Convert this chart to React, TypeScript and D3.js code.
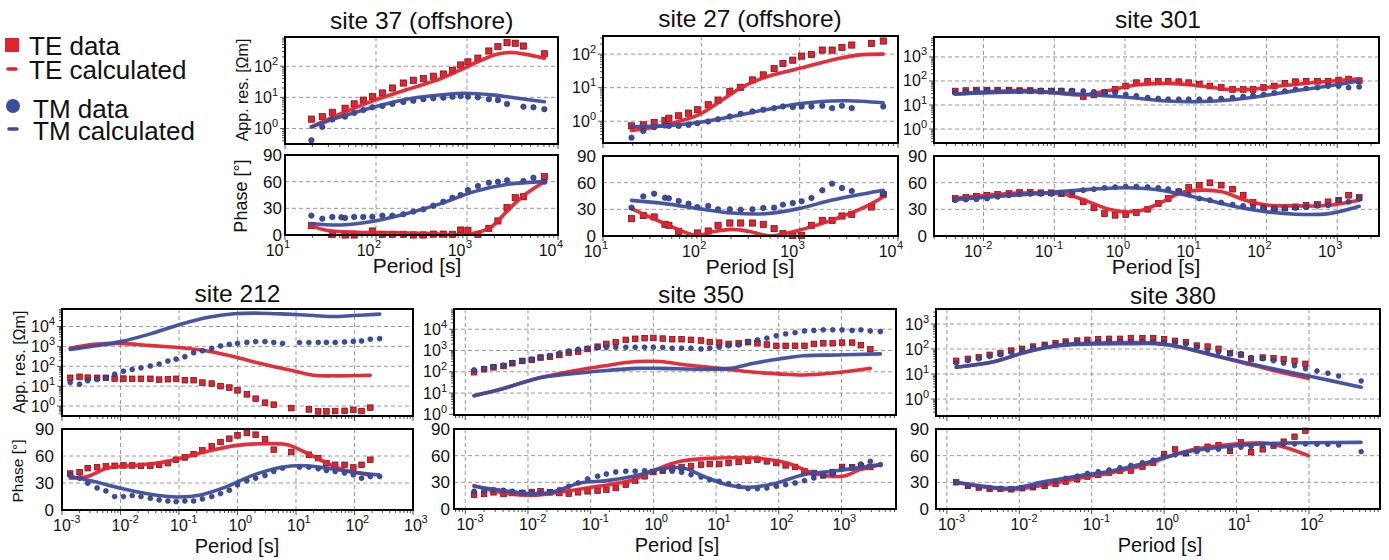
import React from 'react';
import * as d3 from 'd3';

type Pt = [number, number];
type Val = number | null;

// All periods are log10(T [s]); apparent resistivities are log10(rho [Ohm m]); phases in degrees.

// ---------------- site 37 (offshore) ----------------
const s37TePer = [1.29, 1.41, 1.52, 1.66, 1.76, 1.86, 1.96, 2.07, 2.18, 2.30, 2.41, 2.52, 2.63, 2.74, 2.84, 2.93, 3.01, 3.12, 3.24, 3.34, 3.44, 3.53, 3.62, 3.85];
const s37TeRho: Val[] = [0.30, 0.38, 0.52, 0.65, 0.79, 0.91, 1.02, 1.14, 1.30, 1.46, 1.55, 1.60, 1.68, 1.75, 1.87, 2.04, 2.14, 2.26, 2.49, 2.63, 2.76, 2.74, 2.65, 2.40];
const s37TePh: Val[] = [10.5, null, 0.8, 0, 0, null, 4.5, 0.8, 0.8, 0.8, 0, 0, 1, 1, 0.8, 5.6, 5.3, 0.8, 7.5, 15.8, 30.8, 42, 43, 65.6];
const s37TmPer = [1.29, 1.41, 1.52, 1.62, 1.66, 1.76, 1.86, 1.96, 2.07, 2.18, 2.30, 2.41, 2.52, 2.63, 2.74, 2.84, 2.93, 3.01, 3.12, 3.24, 3.34, 3.44, 3.62, 3.73, 3.85];
const s37TmRho: Val[] = [-0.38, 0.05, 0.29, null, 0.38, 0.50, 0.59, 0.68, 0.72, 0.79, 0.85, 0.89, 0.94, 0.97, 0.99, 1.02, 1.04, 1.02, 1.00, 0.94, 0.91, 0.79, 0.70, 0.68, 0.62];
const s37TmPh: Val[] = [21.8, 18.4, 20.3, 19.9, 19.2, 20.3, 20.3, 20.6, 21.8, 21.8, 23.3, 26.3, 28.9, 33, 37.5, 42, 45, 50.6, 55.1, 58.9, 60, 61.5, 60.8, 64.5, 60];
const s37TeRhoCalc: Pt[] = [[1.29, 0.05], [1.62, 0.48], [1.99, 0.91], [2.35, 1.26], [2.72, 1.61], [2.97, 1.94], [3.16, 2.20], [3.34, 2.39], [3.49, 2.44], [3.63, 2.39], [3.85, 2.26]];
const s37TmRhoCalc: Pt[] = [[1.29, 0.05], [1.62, 0.38], [1.99, 0.70], [2.35, 0.95], [2.72, 1.08], [2.97, 1.13], [3.27, 1.08], [3.56, 0.97], [3.85, 0.86]];
const s37TePhCalc: Pt[] = [[1.29, 10.5], [1.44, 5.6], [1.80, 3], [2.17, 2.6], [2.54, 1.9], [2.90, 0.3], [3.08, 1.9], [3.27, 9.4], [3.45, 28], [3.63, 45], [3.85, 60]];
const s37TmPhCalc: Pt[] = [[1.29, 13], [1.62, 11.3], [1.99, 15.8], [2.35, 24.4], [2.72, 35.6], [3.08, 48.8], [3.45, 57], [3.85, 60]];

// ---------------- site 27 (offshore) ----------------
const s27Per = [1.29, 1.41, 1.52, 1.63, 1.67, 1.77, 1.87, 1.96, 2.07, 2.17, 2.29, 2.40, 2.52, 2.63, 2.74, 2.83, 2.93, 3.02, 3.12, 3.23, 3.33, 3.43, 3.53, 3.73, 3.85];
const s27TeRho: Val[] = [-0.14, -0.11, -0.04, 0.02, 0.09, 0.16, 0.24, 0.34, 0.49, 0.63, 0.88, 1.01, 1.23, 1.38, 1.57, 1.72, 1.82, 1.94, 1.99, 2.12, 2.12, 2.20, 2.27, 2.32, 2.39];
const s27TmRho: Val[] = [-0.49, -0.29, -0.18, -0.13, -0.14, -0.14, -0.11, -0.06, -0.01, 0.06, 0.14, 0.22, 0.29, 0.34, 0.39, 0.44, 0.42, 0.44, 0.44, 0.46, 0.39, 0.46, 0.39, null, 0.44];
const s27TePh: Val[] = [19.5, 23, 21.4, 13.1, 12, 5.3, null, 3.4, 5.6, 12, 14.6, 14.6, 14.6, 13.1, 8.3, 2.6, 0.8, 0.8, 12, 17.6, 17.6, 22.5, 24.4, 32.6, 46.9];
const s27TmPh: Val[] = [31.9, 44.6, 47.6, 43.1, 42.4, 39.4, 36.4, 32.6, 33.8, 30, 30, 29.6, 30, 31.5, 31.9, 35.3, 37.1, 39, 42.8, 51.4, 58.9, 54, 50.6, null, 47.6];
const s27TeRhoCalc: Pt[] = [[1.29, -0.28], [1.63, -0.11], [1.97, 0.19], [2.21, 0.63], [2.41, 1.01], [2.65, 1.31], [2.99, 1.57], [3.32, 1.82], [3.59, 1.97], [3.85, 2.0]];
const s27TmRhoCalc: Pt[] = [[1.29, -0.16], [1.63, -0.14], [1.97, -0.04], [2.31, 0.14], [2.65, 0.34], [2.99, 0.52], [3.32, 0.60], [3.49, 0.61], [3.85, 0.55]];
const s27TePhCalc: Pt[] = [[1.29, 30.8], [1.63, 13.9], [1.95, 0.8], [2.14, 5.3], [2.31, 7.5], [2.48, 5.3], [2.71, 0.2], [2.99, 6.4], [3.32, 17.6], [3.66, 32.6], [3.85, 43.9]];
const s27TmPhCalc: Pt[] = [[1.29, 40.1], [1.63, 36.4], [1.97, 30.8], [2.31, 25.9], [2.65, 25.1], [2.99, 30.8], [3.32, 40.1], [3.66, 47.6], [3.85, 51.4]];

// ---------------- site 301 ----------------
const s301Per = [-2.40, -2.25, -2.10, -1.95, -1.80, -1.64, -1.49, -1.34, -1.19, -1.04, -0.90, -0.75, -0.59, -0.44, -0.29, -0.14, 0.01, 0.16, 0.32, 0.47, 0.61, 0.76, 0.90, 1.05, 1.20, 1.36, 1.52, 1.67, 1.81, 1.96, 2.11, 2.26, 2.41, 2.56, 2.72, 2.87, 3.02, 3.16, 3.31];
const s301TeRho: Val[] = [1.58, 1.60, 1.62, 1.62, 1.62, 1.62, 1.60, 1.60, 1.58, 1.58, 1.58, 1.55, 1.35, 1.42, 1.51, 1.65, 1.79, 1.93, 1.99, 1.99, 1.99, 1.97, 1.93, 1.87, 1.79, 1.73, 1.65, 1.65, 1.65, 1.73, 1.79, 1.90, 1.97, 1.99, 1.99, 1.99, 2.04, 2.08, 2.01];
const s301TmRho: Val[] = [1.51, 1.55, 1.60, 1.60, 1.60, 1.60, 1.60, 1.60, 1.60, 1.60, 1.60, 1.60, 1.58, 1.55, 1.55, 1.51, 1.44, 1.38, 1.31, 1.27, 1.24, 1.24, 1.24, 1.24, 1.24, 1.27, 1.31, 1.35, 1.40, 1.44, 1.51, 1.58, 1.65, 1.69, 1.73, 1.79, 1.79, 1.73, 1.76];
const s301TePh: Val[] = [42.2, 43.3, 44.8, 45.9, 46.7, 47.8, 49, 49, 48.6, 48.6, 47.8, 46.7, 38.4, 31.6, 25.2, 23.3, 24.1, 26.4, 30.1, 36.5, 42.2, 49.7, 54.6, 57.2, 59.9, 57.2, 52.7, 45.9, 37.7, 32.8, 30.9, 31.6, 32.8, 34.6, 35.4, 38.4, 40.3, 45.9, 43.3];
const s301TmPh: Val[] = [40.3, 41, 41.4, 42.2, 44.1, 45.9, 46.7, 47.4, 47.4, 47.4, 47.4, 49.7, 51.6, 52.7, 54.2, 55, 55.7, 55.7, 55, 54.2, 52.7, 50.8, 46.7, 42.2, 40.3, 37.7, 35.4, 33.9, 32.4, 31.6, 30.9, 30.9, 31.6, 32.4, 33.9, 34.6, 40.3, 38.4, 42.2];
const s301TeRhoCalc: Pt[] = [[-2.40, 1.46], [-1.36, 1.60], [-0.60, 1.42], [-0.23, 1.60], [0.15, 1.83], [0.62, 1.90], [1.0, 1.82], [1.47, 1.65], [1.75, 1.65], [2.18, 1.79], [2.65, 1.93], [3.31, 2.09]];
const s301TmRhoCalc: Pt[] = [[-2.40, 1.46], [-1.36, 1.55], [-0.60, 1.44], [0.06, 1.31], [0.53, 1.18], [1.0, 1.14], [1.47, 1.21], [1.94, 1.38], [2.41, 1.60], [2.88, 1.79], [3.31, 2.01]];
const s301TePhCalc: Pt[] = [[-2.40, 42.2], [-1.36, 48.6], [-0.79, 45.9], [-0.51, 38.4], [-0.23, 30.1], [0.01, 27.1], [0.24, 29], [0.53, 38.4], [0.76, 47.8], [1.09, 51.6], [1.37, 49.7], [1.70, 40.3], [2.03, 34.6], [2.41, 33.9], [2.88, 34.6], [3.31, 40.3]];
const s301TmPhCalc: Pt[] = [[-2.40, 41], [-1.36, 47.1], [-0.65, 51.6], [0.01, 54.2], [0.43, 52.3], [0.90, 45.2], [1.47, 34.6], [1.94, 27.9], [2.41, 24.5], [2.88, 25.2], [3.31, 33.5]];

// ---------------- site 212 ----------------
const s212TePer = [-2.86, -2.70, -2.56, -2.40, -2.25, -2.10, -1.95, -1.80, -1.65, -1.49, -1.34, -1.19, -1.05, -0.90, -0.75, -0.60, -0.44, -0.29, -0.14, 0.00, 0.16, 0.31, 0.47, 0.62, 0.92, 1.22, 1.38, 1.52, 1.67, 1.83, 1.98, 2.12, 2.27];
const s212TeRho: Val[] = [1.42, 1.47, 1.43, 1.42, 1.42, 1.38, 1.38, 1.37, 1.37, 1.37, 1.33, 1.35, 1.37, 1.30, 1.30, 1.18, 1.13, 1.00, 0.93, 0.79, 0.59, 0.37, 0.17, 0.07, -0.10, -0.17, -0.27, -0.27, -0.25, -0.24, -0.19, -0.25, -0.08];
const s212TePh: Val[] = [40.5, 42, 46.5, 47.6, 48.4, 49.1, 49.5, 49.5, 49.1, 49.1, 50.2, 52.1, 55.8, 58.4, 62.1, 66.2, 70.7, 75.5, 79.2, 82.9, 85.6, 83.7, 78.9, 67, 64.4, 61.4, 57.7, 52.1, 50.2, 50.2, 47.2, 50.2, 55.8];
const s212TmPer = [-2.86, -2.70, -2.56, -2.40, -2.25, -2.10, -1.95, -1.80, -1.65, -1.49, -1.34, -1.19, -1.05, -0.90, -0.75, -0.60, -0.44, -0.29, -0.14, 0.00, 0.16, 0.31, 0.47, 0.62, 0.77, 1.06, 1.22, 1.38, 1.52, 1.67, 1.83, 1.98, 2.12, 2.27, 2.43];
const s212TmRho: Val[] = [1.18, 1.10, 1.27, 1.33, 1.42, 1.60, 1.75, 1.84, 1.92, 2.01, 2.11, 2.26, 2.36, 2.48, 2.68, 2.78, 2.90, 3.02, 3.10, 3.15, 3.20, 3.24, 3.24, 3.20, 3.15, 3.19, 3.19, 3.20, 3.20, 3.20, 3.22, 3.25, 3.27, 3.36, 3.39];
const s212TmPh: Val[] = [39, 35.3, 29.8, 24.5, 21.2, 14.9, 14.9, 16, 14.9, 13, 11.2, 10, 9.3, 10, 10, 12.3, 14.9, 18.2, 21.9, 27.9, 32.4, 35.3, 38.3, 42.8, 46.5, 47.6, 47.6, 45.8, 43.9, 42.8, 41, 39, 35.3, 37.2, 37.2];
const s212TeRhoCalc: Pt[] = [[-2.86, 2.90], [-2.45, 3.10], [-2.0, 3.15], [-1.49, 3.04], [-0.97, 2.93], [-0.52, 2.77], [-0.06, 2.48], [0.39, 2.14], [0.85, 1.84], [1.30, 1.55], [1.65, 1.52], [2.27, 1.55]];
const s212TmRhoCalc: Pt[] = [[-2.86, 2.85], [-2.45, 3.02], [-2.0, 3.24], [-1.49, 3.63], [-0.97, 4.11], [-0.52, 4.45], [-0.06, 4.64], [0.39, 4.67], [0.85, 4.62], [1.30, 4.55], [1.65, 4.50], [1.98, 4.55], [2.43, 4.62]];
const s212TePhCalc: Pt[] = [[-2.86, 35.3], [-2.57, 37.2], [-2.23, 46.5], [-1.77, 49.5], [-1.31, 52.8], [-0.86, 59.5], [-0.40, 67], [0, 71.8], [0.51, 73.7], [0.85, 72.5], [1.19, 63.2], [1.53, 52.1], [1.87, 43.5], [2.27, 39]];
const s212TmPhCalc: Pt[] = [[-2.86, 37.2], [-2.45, 31.6], [-2.0, 24.2], [-1.49, 17.5], [-1.03, 14.5], [-0.63, 16.7], [-0.18, 26], [0.28, 39], [0.73, 47.2], [1.08, 49.5], [1.53, 46.5], [1.99, 42], [2.42, 39]];

// ---------------- site 350 ----------------
const s350Per = [-2.86, -2.70, -2.55, -2.39, -2.25, -2.09, -1.94, -1.80, -1.65, -1.50, -1.35, -1.20, -1.05, -0.89, -0.75, -0.60, -0.44, -0.29, -0.14, 0.00, 0.15, 0.30, 0.45, 0.60, 0.76, 0.90, 1.05, 1.20, 1.36, 1.51, 1.66, 1.81, 1.96, 2.11, 2.26, 2.41, 2.56, 2.71, 2.86, 3.01, 3.17, 3.31, 3.46, 3.62];
const s350TeRho: Val[] = [1.98, 2.12, 2.21, 2.27, 2.40, 2.51, 2.56, 2.67, 2.71, 2.79, 2.90, 2.95, 3.07, 3.18, 3.31, 3.39, 3.50, 3.55, 3.58, 3.59, 3.56, 3.53, 3.53, 3.50, 3.47, 3.40, 3.37, 3.31, 3.34, 3.39, 3.34, 3.28, 3.22, 3.22, 3.22, 3.22, 3.31, 3.34, 3.34, 3.37, 3.37, 3.25, 3.06, null];
const s350TmRho: Val[] = [2.09, 2.16, 2.24, 2.31, 2.43, 2.51, 2.59, 2.68, 2.76, 2.87, 2.98, 3.06, 3.11, 3.14, 3.14, 3.15, 3.15, 3.15, 3.15, 3.15, 3.14, 3.11, 3.11, 3.11, 3.07, 3.11, 3.15, 3.22, 3.26, 3.42, 3.50, 3.58, 3.69, 3.78, 3.84, 3.92, 3.94, 3.97, 3.97, 3.97, 3.94, 3.97, 3.92, 3.89];
const s350TePh: Val[] = [16.1, 16.9, 18.8, 16.9, 18, 18, 19.1, 19.9, 18.8, 18, 17.3, 18.8, 19.9, 20.6, 21.8, 23.6, 27.4, 31.9, 36.8, 41.6, 43.1, 46.1, 46.9, 48, 49.9, 50.6, 50.6, 51.8, 52.9, 54.4, 55.5, 53.6, 51.8, 49.1, 47.3, 42.4, 40.5, 37.9, 41.6, 47.3, 46.9, 48, 47.3, null];
const s350TmPh: Val[] = [19.9, 20.6, 21.8, 21, 19.9, 18.8, 18, 18, 19.1, 21.8, 25.5, 29.3, 33.8, 36.8, 39.4, 41.6, 42.4, 42.4, 43.1, 42.4, 43.1, 42.4, 41.3, 38.6, 36, 33, 31.1, 28.5, 25.5, 22.9, 22.9, 23.6, 25.5, 27.4, 29.3, 31.9, 34.9, 37.5, 39.4, 45, 46.9, 50.6, 53.6, 49.9];
const s350TeRhoCalc: Pt[] = [[-2.86, 0.88], [-2.39, 1.22], [-1.86, 1.69], [-1.33, 2.01], [-0.80, 2.27], [-0.27, 2.48], [0.11, 2.48], [0.53, 2.32], [1.06, 2.16], [1.49, 2.01], [2.0, 1.90], [2.39, 1.85], [2.82, 1.93], [3.46, 2.16]];
const s350TmRhoCalc: Pt[] = [[-2.86, 0.88], [-2.39, 1.22], [-1.86, 1.69], [-1.33, 1.90], [-0.80, 2.05], [-0.27, 2.16], [0.11, 2.16], [0.80, 2.12], [1.22, 2.16], [1.60, 2.40], [2.0, 2.60], [2.39, 2.75], [2.93, 2.79], [3.62, 2.84]];
const s350TePhCalc: Pt[] = [[-2.86, 26.3], [-2.39, 18], [-1.91, 15.4], [-1.49, 19.1], [-1.06, 23.6], [-0.32, 33], [0, 43.1], [0.43, 53.6], [1.06, 57.4], [1.60, 57.4], [2.13, 51.8], [2.55, 40.5], [3.01, 36.8], [3.30, 44.3], [3.62, 49.9]];
const s350TmPhCalc: Pt[] = [[-2.86, 25.5], [-2.39, 20.6], [-1.97, 17.3], [-1.60, 19.1], [-1.17, 29.3], [-0.74, 31.9], [-0.32, 36.8], [0.11, 45], [0.48, 46.1], [0.80, 36.8], [1.17, 27.4], [1.54, 24.4], [1.97, 29.3], [2.39, 38.6], [2.93, 43.1], [3.62, 49.9]];

// ---------------- site 380 ----------------
const s380Per = [-2.87, -2.71, -2.56, -2.41, -2.26, -2.11, -1.96, -1.81, -1.65, -1.50, -1.36, -1.20, -1.06, -0.91, -0.76, -0.61, -0.46, -0.30, -0.15, 0.00, 0.15, 0.30, 0.45, 0.60, 0.75, 0.91, 1.06, 1.20, 1.36, 1.51, 1.65, 1.80, 1.95, 2.11, 2.26, 2.41, 2.72];
const s380TeRho: Val[] = [1.53, 1.61, 1.67, 1.77, 1.83, 1.94, 2.01, 2.10, 2.17, 2.24, 2.30, 2.34, 2.37, 2.40, 2.41, 2.41, 2.44, 2.44, 2.44, 2.40, 2.33, 2.28, 2.14, 2.10, 2.01, 1.83, 1.77, 1.61, 1.66, 1.63, 1.59, 1.53, 1.41, null, null, null, null];
const s380TmRho: Val[] = [1.43, 1.53, 1.61, 1.70, 1.77, 1.86, 1.94, 2.04, 2.13, 2.17, 2.24, 2.28, 2.29, 2.30, 2.30, 2.30, 2.30, 2.30, 2.29, 2.26, 2.24, 2.20, 2.06, 1.93, 1.87, 1.81, 1.81, 1.66, 1.61, 1.53, 1.43, 1.33, 1.21, 1.12, 1.03, 0.92, 0.72];
const s380TePh: Val[] = [30, 25.9, 24, 22.5, 22.5, 22.1, 23.3, 24.4, 25.9, 28.1, 30.8, 33.4, 36.4, 38.3, 40.9, 43.1, 43.1, 47.6, 52.1, 61.9, 67.1, 62.6, 67.1, 70.1, 72, 65.3, 75, 63.8, 67.1, 71.3, 75.8, 81.4, 88.1, null, null, null, null];
const s380TmPh: Val[] = [30, 27, 25.1, 24, 23.3, 22.5, 23.3, 25.1, 28.1, 31.5, 34.5, 37.1, 40.1, 42, 43.9, 46.5, 49.1, 52.1, 55.1, 58.9, 60.8, 62.6, 64.5, 66.4, 67.1, 68.3, 69.4, 70.1, 72, 72.8, 73.1, 73.1, 73.1, 72.8, 72.8, 72, 64.5];
const s380TeRhoCalc: Pt[] = [[-2.87, 1.27], [-2.34, 1.50], [-1.88, 1.90], [-1.42, 2.17], [-0.96, 2.24], [-0.50, 2.26], [-0.13, 2.24], [0.19, 2.10], [0.65, 1.77], [1.11, 1.43], [1.57, 1.10], [1.99, 0.83]];
const s380TmRhoCalc: Pt[] = [[-2.87, 1.27], [-2.34, 1.50], [-1.88, 1.90], [-1.42, 2.14], [-0.96, 2.20], [-0.50, 2.21], [-0.13, 2.21], [0.19, 2.10], [0.65, 1.77], [1.11, 1.46], [1.57, 1.17], [2.03, 0.90], [2.72, 0.47]];
const s380TePhCalc: Pt[] = [[-2.87, 30], [-2.52, 25.1], [-2.11, 22.1], [-1.65, 27], [-1.19, 34.5], [-0.73, 40.9], [-0.27, 49.5], [0, 57], [0.33, 65.6], [0.65, 70.1], [1.11, 73.9], [1.43, 73.9], [1.71, 68.3], [1.99, 60]];
const s380TmPhCalc: Pt[] = [[-2.87, 30], [-2.52, 25.9], [-2.11, 23.3], [-1.65, 30.8], [-1.19, 37.1], [-0.73, 42.8], [-0.27, 51.4], [0, 58.1], [0.33, 64.5], [0.65, 68.3], [1.11, 72], [1.57, 73.9], [2.03, 74.6], [2.72, 75]];

// ---------------- legend / ticks ----------------
const legendLabels = ['TE data', 'TE calculated', 'TM data', 'TM calculated'];
const phaseTicks = [0, 30, 60, 90];

// ---------------- styling ----------------
const FONT = '"Liberation Sans", Arial, Helvetica, sans-serif';
const RED = '#e3232f';
const RED_EDGE = '#5e0c13';
const BLUE = '#3d4d9e';
const BLUE_EDGE = '#1d2960';
const GRID = '#8c8c8c';

interface SiteData {
  tePer: number[]; teRho: Val[]; tePh: Val[];
  tmPer: number[]; tmRho: Val[]; tmPh: Val[];
  teRhoCalc: Pt[]; tmRhoCalc: Pt[]; tePhCalc: Pt[]; tmPhCalc: Pt[];
}

interface Layout {
  id: string; title: string; titleX: number; titleY: number;
  x0: number; x1: number; xDom: [number, number];
  rY: [number, number]; rDom: [number, number]; pY: [number, number];
  xLab: 'end' | 'middle'; phDx: number; periodX: number; periodDy: number; periodSize: number; ms: number;
  rhoTitle?: { x: number; y: number; size: number };
  phTitle?: { x: number; y: number; size: number };
}

const sites: { L: Layout; D: SiteData }[] = [
  {
    L: { id: 's37', title: 'site 37 (offshore)', titleX: 421.7, titleY: 29, x0: 285, x1: 558, xDom: [1, 4], rY: [37, 144], rDom: [-0.5, 2.94], pY: [155, 235], xLab: 'end', phDx: 3, periodX: 417, periodDy: 38, periodSize: 21, ms: 6.2,
      rhoTitle: { x: 248, y: 90, size: 16 }, phTitle: { x: 246.5, y: 196, size: 18 } },
    D: { tePer: s37TePer, teRho: s37TeRho, tePh: s37TePh, tmPer: s37TmPer, tmRho: s37TmRho, tmPh: s37TmPh, teRhoCalc: s37TeRhoCalc, tmRhoCalc: s37TmRhoCalc, tePhCalc: s37TePhCalc, tmPhCalc: s37TmPhCalc },
  },
  {
    L: { id: 's27', title: 'site 27 (offshore)', titleX: 750, titleY: 27, x0: 603, x1: 898, xDom: [1, 4], rY: [36, 143], rDom: [-0.65, 2.54], pY: [156, 236], xLab: 'end', phDx: 7, periodX: 750, periodDy: 38, periodSize: 21, ms: 6.2 },
    D: { tePer: s27Per, teRho: s27TeRho, tePh: s27TePh, tmPer: s27Per, tmRho: s27TmRho, tmPh: s27TmPh, teRhoCalc: s27TeRhoCalc, tmRhoCalc: s27TmRhoCalc, tePhCalc: s27TePhCalc, tmPhCalc: s27TmPhCalc },
  },
  {
    L: { id: 's301', title: 'site 301', titleX: 1158, titleY: 28, x0: 934, x1: 1379, xDom: [-2.7, 3.59], rY: [37, 143], rDom: [-0.58, 3.83], pY: [156, 236], xLab: 'end', phDx: 7, periodX: 1156, periodDy: 38, periodSize: 21, ms: 5.8 },
    D: { tePer: s301Per, teRho: s301TeRho, tePh: s301TePh, tmPer: s301Per, tmRho: s301TmRho, tmPh: s301TmPh, teRhoCalc: s301TeRhoCalc, tmRhoCalc: s301TmRhoCalc, tePhCalc: s301TePhCalc, tmPhCalc: s301TmPhCalc },
  },
  {
    L: { id: 's212', title: 'site 212', titleX: 237.5, titleY: 302, x0: 62, x1: 413, xDom: [-3, 3], rY: [309, 416], rDom: [-0.5, 4.88], pY: [429, 510], xLab: 'middle', phDx: 8, periodX: 237, periodDy: 43, periodSize: 20, ms: 5.6,
      rhoTitle: { x: 25, y: 362, size: 16 }, phTitle: { x: 23, y: 471, size: 15.5 } },
    D: { tePer: s212TePer, teRho: s212TeRho, tePh: s212TePh, tmPer: s212TmPer, tmRho: s212TmRho, tmPh: s212TmPh, teRhoCalc: s212TeRhoCalc, tmRhoCalc: s212TmRhoCalc, tePhCalc: s212TePhCalc, tmPhCalc: s212TmPhCalc },
  },
  {
    L: { id: 's350', title: 'site 350', titleX: 701, titleY: 303, x0: 454, x1: 896, xDom: [-3.18, 3.87], rY: [309, 415], rDom: [-0.03, 4.95], pY: [429, 509], xLab: 'middle', phDx: 4, periodX: 677, periodDy: 43, periodSize: 20, ms: 5.6 },
    D: { tePer: s350Per, teRho: s350TeRho, tePh: s350TePh, tmPer: s350Per, tmRho: s350TmRho, tmPh: s350TmPh, teRhoCalc: s350TeRhoCalc, tmRhoCalc: s350TmRhoCalc, tePhCalc: s350TePhCalc, tmPhCalc: s350TmPhCalc },
  },
  {
    L: { id: 's380', title: 'site 380', titleX: 1173, titleY: 304, x0: 936, x1: 1380, xDom: [-3.15, 2.98], rY: [309, 416], rDom: [-0.68, 3.6], pY: [429, 509], xLab: 'middle', phDx: 7, periodX: 1160, periodDy: 43, periodSize: 20, ms: 5.4 },
    D: { tePer: s380Per, teRho: s380TeRho, tePh: s380TePh, tmPer: s380Per, tmRho: s380TmRho, tmPh: s380TmPh, teRhoCalc: s380TeRhoCalc, tmRhoCalc: s380TmRhoCalc, tePhCalc: s380TePhCalc, tmPhCalc: s380TmPhCalc },
  },
];

function pairs(per: number[], val: Val[]): Pt[] {
  const out: Pt[] = [];
  per.forEach((p, i) => {
    const v = val[i];
    if (v !== null && v !== undefined) out.push([p, v]);
  });
  return out;
}

function logTicks(dom: [number, number]) {
  const out: { v: number; major: boolean }[] = [];
  for (let k = Math.floor(dom[0]) - 1; k <= Math.ceil(dom[1]); k++) {
    for (let m = 1; m < 10; m++) {
      const lv = k + Math.log10(m);
      if (lv >= dom[0] - 1e-6 && lv <= dom[1] + 1e-6) out.push({ v: m * Math.pow(10, k), major: m === 1 });
    }
  }
  return out;
}

function Panel({ L, D }: { L: Layout; D: SiteData }) {
  const x = d3.scaleLog().domain([Math.pow(10, L.xDom[0]), Math.pow(10, L.xDom[1])]).range([L.x0, L.x1]);
  const yR = d3.scaleLog().domain([Math.pow(10, L.rDom[0]), Math.pow(10, L.rDom[1])]).range([L.rY[1], L.rY[0]]);
  const yP = d3.scaleLinear().domain([0, 90]).range([L.pY[1], L.pY[0]]);
  const xDec = d3.range(Math.ceil(L.xDom[0] - 1e-6), Math.floor(L.xDom[1] + 1e-6) + 1);
  const yDec = d3.range(Math.ceil(L.rDom[0] - 1e-6), Math.floor(L.rDom[1] + 1e-6) + 1);
  const xMin = logTicks(L.xDom);
  const yMin = logTicks(L.rDom);
  const lineR = d3.line<Pt>().x(d => x(Math.pow(10, d[0]))).y(d => yR(Math.pow(10, d[1]))).curve(d3.curveCatmullRom.alpha(0.5));
  const lineP = d3.line<Pt>().x(d => x(Math.pow(10, d[0]))).y(d => yP(d[1])).curve(d3.curveCatmullRom.alpha(0.5));
  const W = L.x1 - L.x0;
  const rH = L.rY[1] - L.rY[0];
  const pH = L.pY[1] - L.pY[0];
  const inside = (px: number, a: number, b: number) => px > a + 2 && px < b - 2;
  const ms = L.ms;

  const teR = pairs(D.tePer, D.teRho);
  const tmR = pairs(D.tmPer, D.tmRho);
  const teP = pairs(D.tePer, D.tePh);
  const tmP = pairs(D.tmPer, D.tmPh);

  const squares = (pts: Pt[], fy: (d: Pt) => number, key: string) =>
    pts.map((d, i) => (
      <rect key={key + i} x={x(Math.pow(10, d[0])) - ms / 2} y={fy(d) - ms / 2} width={ms} height={ms}
        fill={RED} stroke={RED_EDGE} strokeWidth={0.7} />
    ));
  const dots = (pts: Pt[], fy: (d: Pt) => number, key: string) =>
    pts.map((d, i) => (
      <circle key={key + i} cx={x(Math.pow(10, d[0]))} cy={fy(d)} r={ms * 0.44}
        fill={BLUE} stroke={BLUE_EDGE} strokeWidth={0.6} />
    ));
  const fR = (d: Pt) => yR(Math.pow(10, d[1]));
  const fP = (d: Pt) => yP(d[1]);

  const lw = 3.6;

  return (
    <g>
      <defs>
        <clipPath id={`cr-${L.id}`}><rect x={L.x0} y={L.rY[0]} width={W} height={rH} /></clipPath>
        <clipPath id={`cp-${L.id}`}><rect x={L.x0} y={L.pY[0]} width={W} height={pH} /></clipPath>
      </defs>
      <text x={L.titleX} y={L.titleY} textAnchor="middle" fontSize={24.5} fontFamily={FONT} fill="#111">{L.title}</text>

      <rect x={L.x0} y={L.rY[0]} width={W} height={rH} fill="#fff" />
      <rect x={L.x0} y={L.pY[0]} width={W} height={pH} fill="#fff" />

      <g stroke={GRID} strokeWidth={0.9} strokeDasharray="4 3" fill="none">
        {xDec.filter(k => inside(x(Math.pow(10, k)), L.x0, L.x1)).map(k => (
          <g key={'gx' + k}>
            <line x1={x(Math.pow(10, k))} x2={x(Math.pow(10, k))} y1={L.rY[0]} y2={L.rY[1]} />
            <line x1={x(Math.pow(10, k))} x2={x(Math.pow(10, k))} y1={L.pY[0]} y2={L.pY[1]} />
          </g>
        ))}
        {yDec.filter(k => inside(yR(Math.pow(10, k)), L.rY[0], L.rY[1])).map(k => (
          <line key={'gy' + k} x1={L.x0} x2={L.x1} y1={yR(Math.pow(10, k))} y2={yR(Math.pow(10, k))} />
        ))}
        {[30, 60].map(v => (
          <line key={'gp' + v} x1={L.x0} x2={L.x1} y1={yP(v)} y2={yP(v)} />
        ))}
      </g>

      <g stroke="#222" strokeWidth={0.8}>
        {xMin.map((t, i) => (
          <g key={'tx' + i}>
            <line x1={x(t.v)} x2={x(t.v)} y1={L.rY[1]} y2={L.rY[1] + (t.major ? 5 : 3)} />
            <line x1={x(t.v)} x2={x(t.v)} y1={L.pY[1]} y2={L.pY[1] + (t.major ? 5 : 3)} />
          </g>
        ))}
        {yMin.map((t, i) => (
          <line key={'ty' + i} x1={L.x0} x2={L.x0 - (t.major ? 5 : 3)} y1={yR(t.v)} y2={yR(t.v)} />
        ))}
      </g>

      {squares(teR, fR, 'ter')}
      {squares(teP, fP, 'tep')}
      <g clipPath={`url(#cr-${L.id})`}>
        <path d={lineR(D.teRhoCalc) || ''} fill="none" stroke={RED} strokeWidth={lw} strokeLinecap="round" opacity={0.95} />
      </g>
      <g clipPath={`url(#cp-${L.id})`}>
        <path d={lineP(D.tePhCalc) || ''} fill="none" stroke={RED} strokeWidth={lw} strokeLinecap="round" opacity={0.95} />
      </g>
      {dots(tmR, fR, 'tmr')}
      {dots(tmP, fP, 'tmp')}
      <g clipPath={`url(#cr-${L.id})`}>
        <path d={lineR(D.tmRhoCalc) || ''} fill="none" stroke={BLUE} strokeWidth={lw} strokeLinecap="round" opacity={0.95} />
      </g>
      <g clipPath={`url(#cp-${L.id})`}>
        <path d={lineP(D.tmPhCalc) || ''} fill="none" stroke={BLUE} strokeWidth={lw} strokeLinecap="round" opacity={0.95} />
      </g>

      <rect x={L.x0} y={L.rY[0]} width={W} height={rH} fill="none" stroke="#000" strokeWidth={2} />
      <rect x={L.x0} y={L.pY[0]} width={W} height={pH} fill="none" stroke="#000" strokeWidth={2} />

      {yDec.map(k => (
        <text key={'ly' + k} x={L.x0 - 7} y={yR(Math.pow(10, k)) + 5.5} textAnchor="end" fontSize={16} fontFamily={FONT} fill="#111">
          10<tspan dy={-7} fontSize={11}>{k < 0 ? '-' + Math.abs(k) : String(k)}</tspan>
        </text>
      ))}
      {phaseTicks.map(v => (
        <text key={'lp' + v} x={L.x0 - L.phDx} y={yP(v) + 6} textAnchor="end" fontSize={17} fontFamily={FONT} fill="#111">{v}</text>
      ))}
      {xDec.map(k => {
        const px = x(Math.pow(10, k));
        const by = L.pY[1] + 20.5;
        const exp = k < 0 ? '-' + Math.abs(k) : String(k);
        if (L.xLab === 'end') {
          return (
            <g key={'lx' + k} fontFamily={FONT} fill="#111">
              <text x={px - 1.5} y={by} textAnchor="end" fontSize={16}>10</text>
              <text x={px - 1} y={by - 8} textAnchor="start" fontSize={11}>{exp}</text>
            </g>
          );
        }
        return (
          <g key={'lx' + k} fontFamily={FONT} fill="#111">
            <text x={px} y={by} textAnchor="middle" fontSize={16}>10</text>
            <text x={px + 8.5} y={by - 8} textAnchor="start" fontSize={11}>{exp}</text>
          </g>
        );
      })}
      <text x={L.periodX} y={L.pY[1] + L.periodDy} textAnchor="middle" fontSize={L.periodSize} fontFamily={FONT} fill="#111">Period [s]</text>
      {L.rhoTitle && (
        <text transform={`translate(${L.rhoTitle.x},${L.rhoTitle.y}) rotate(-90)`} textAnchor="middle" fontSize={L.rhoTitle.size} fontFamily={FONT} fill="#111">App. res. [Ωm]</text>
      )}
      {L.phTitle && (
        <text transform={`translate(${L.phTitle.x},${L.phTitle.y}) rotate(-90)`} textAnchor="middle" fontSize={L.phTitle.size} fontFamily={FONT} fill="#111">Phase [°]</text>
      )}
    </g>
  );
}

function Legend() {
  return (
    <g fontFamily={FONT} fontSize={26} fill="#111">
      <rect x={5} y={38} width={14} height={14} fill={RED} />
      <text x={29} y={55}>{legendLabels[0]}</text>
      <line x1={8} x2={16} y1={69} y2={69} stroke={RED} strokeWidth={3.6} strokeLinecap="round" />
      <text x={29} y={79}>{legendLabels[1]}</text>
      <circle cx={13} cy={106} r={7} fill={BLUE} />
      <text x={33} y={117.5}>{legendLabels[2]}</text>
      <line x1={9} x2={17} y1={129} y2={129} stroke={BLUE} strokeWidth={3.6} strokeLinecap="round" />
      <text x={33} y={140}>{legendLabels[3]}</text>
    </g>
  );
}

export default function App() {
  return (
    <svg width={1389} height={560} viewBox="0 0 1389 560" style={{ position: 'absolute', left: 0, top: 0, background: '#fff' }}>
      <rect x={0} y={0} width={1389} height={560} fill="#fff" />
      <Legend />
      {sites.map(s => <Panel key={s.L.id} L={s.L} D={s.D} />)}
    </svg>
  );
}
